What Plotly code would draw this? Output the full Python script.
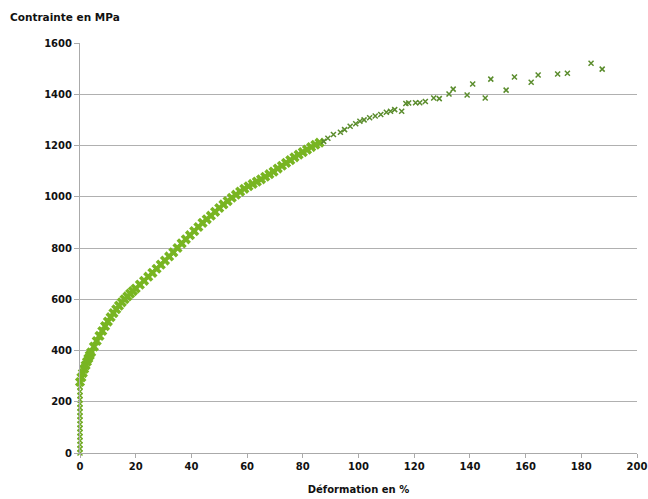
import plotly.graph_objects as go

# Vertical stack of points at 0 % strain (elastic part)
elastic_x = [0, 0, 0, 0, 0, 0, 0, 0, 0, 0, 0, 0, 0, 0, 0, 0, 0]
elastic_y = [0, 16, 32, 48, 64, 80, 96, 112, 128, 144, 160, 176, 192, 208, 224, 240, 258]

# Dense plastic curve
curve_x = [0.0, 0.5, 1.0, 1.5, 2.0, 2.5, 3.0, 3.5, 4.0, 5.0, 6.0, 7.0, 8.0, 9.0, 10.0,
           11.0, 12.0, 13.0, 14.0, 15.0, 16.0, 17.0, 18.0, 19.0, 20.0, 21.5, 23.0, 24.5,
           26.0, 27.5, 29.0, 30.5, 32.0, 33.5, 35.0, 36.5, 38.0, 39.5, 41.0, 42.5, 44.0,
           45.5, 47.0, 48.5, 50.0, 51.5, 53.0, 54.5, 56.0, 57.5, 59.0, 60.5, 62.0, 63.5,
           65.0, 66.5, 68.0, 69.5, 71.0, 72.5, 74.0, 75.5, 77.0, 78.5, 80.0, 81.5, 83.0,
           84.5, 86.0]
curve_y = [277, 295, 312, 328, 342, 356, 369, 381, 393, 415, 437, 457, 476, 495, 513,
           530, 546, 561, 575, 588, 600, 611, 622, 632, 642, 657, 672, 688,
           703, 719, 735, 751, 767, 783, 800, 818, 834, 850, 866, 882, 898,
           912, 926, 941, 956, 970, 983, 996, 1008, 1020, 1031, 1041, 1050, 1059,
           1068, 1078, 1088, 1098, 1110, 1121, 1132, 1143, 1154, 1164, 1174, 1184, 1194,
           1203, 1211]

# Sparse points at large strain
sparse_x = [87.5, 89, 91, 93.5, 95, 97, 99, 100.5, 102, 104, 106, 108, 110, 111.5, 113,
            115.5, 117, 118, 120.5, 122, 124, 127, 129, 132.5, 134, 139, 141, 145.5,
            147.5, 153, 156, 162, 164.5, 171.5, 175, 183.5, 187.5]
sparse_y = [1216, 1228, 1243, 1252, 1262, 1275, 1285, 1295, 1300, 1308, 1315, 1321, 1330,
            1334, 1340, 1334, 1364, 1366, 1367, 1367, 1372, 1385, 1383, 1401, 1420, 1397,
            1440, 1385, 1459, 1416, 1467, 1447, 1475, 1479, 1482, 1521, 1498]

font_family = "DejaVu Sans"
green = "#72ab26"

fig = go.Figure()
fig.add_trace(go.Scatter(x=elastic_x, y=elastic_y, mode="markers",
                         marker=dict(symbol="x-thin", size=5, color=green,
                                     line=dict(width=1.5, color=green)),
                         showlegend=False, cliponaxis=False))
fig.add_trace(go.Scatter(x=curve_x, y=curve_y, mode="markers",
                         marker=dict(symbol="x", size=9, color="#78b522",
                                     line=dict(width=0)),
                         showlegend=False, cliponaxis=False))
fig.add_trace(go.Scatter(x=sparse_x, y=sparse_y, mode="markers",
                         marker=dict(symbol="x-thin", size=5, color="#5a8c2c",
                                     line=dict(width=1.5, color="#5a8c2c")),
                         showlegend=False))

fig.update_layout(
    width=648, height=499,
    margin=dict(l=80, r=11, t=43, b=46),
    paper_bgcolor="white", plot_bgcolor="white",
    font=dict(family=font_family, size=10, color="#111111"),
    title=dict(text="<b>Contrainte en MPa</b>", x=0.0155, xanchor="left",
               y=0.972, yanchor="top", font=dict(size=10.5, color="#111111"),
               automargin=False),
    xaxis=dict(range=[0, 200], dtick=20, tick0=0, showgrid=False, automargin=False,
               showline=True, linecolor="#aaaaaa", linewidth=1,
               ticks="outside", ticklen=4, tickcolor="#aaaaaa",
               ticklabeloverflow="allow",
               tickfont=dict(size=10, color="#111111", weight="bold"),
               zeroline=False,
               title=dict(text="<b>Déformation en %</b>", standoff=14,
                          font=dict(size=10, color="#111111"))),
    yaxis=dict(range=[0, 1600], dtick=200, tick0=0, showgrid=True, automargin=False,
               gridcolor="#b0b0b0", gridwidth=1,
               showline=True, linecolor="#aaaaaa", linewidth=1,
               ticks="outside", ticklen=5, tickcolor="#aaaaaa",
               ticklabeloverflow="allow",
               tickfont=dict(size=10, color="#111111", weight="bold"),
               zeroline=False),
)

fig.write_html("out.html",
               config={"displayModeBar": False},
               post_script="document.body.style.margin='0';document.body.style.overflow='hidden';")
